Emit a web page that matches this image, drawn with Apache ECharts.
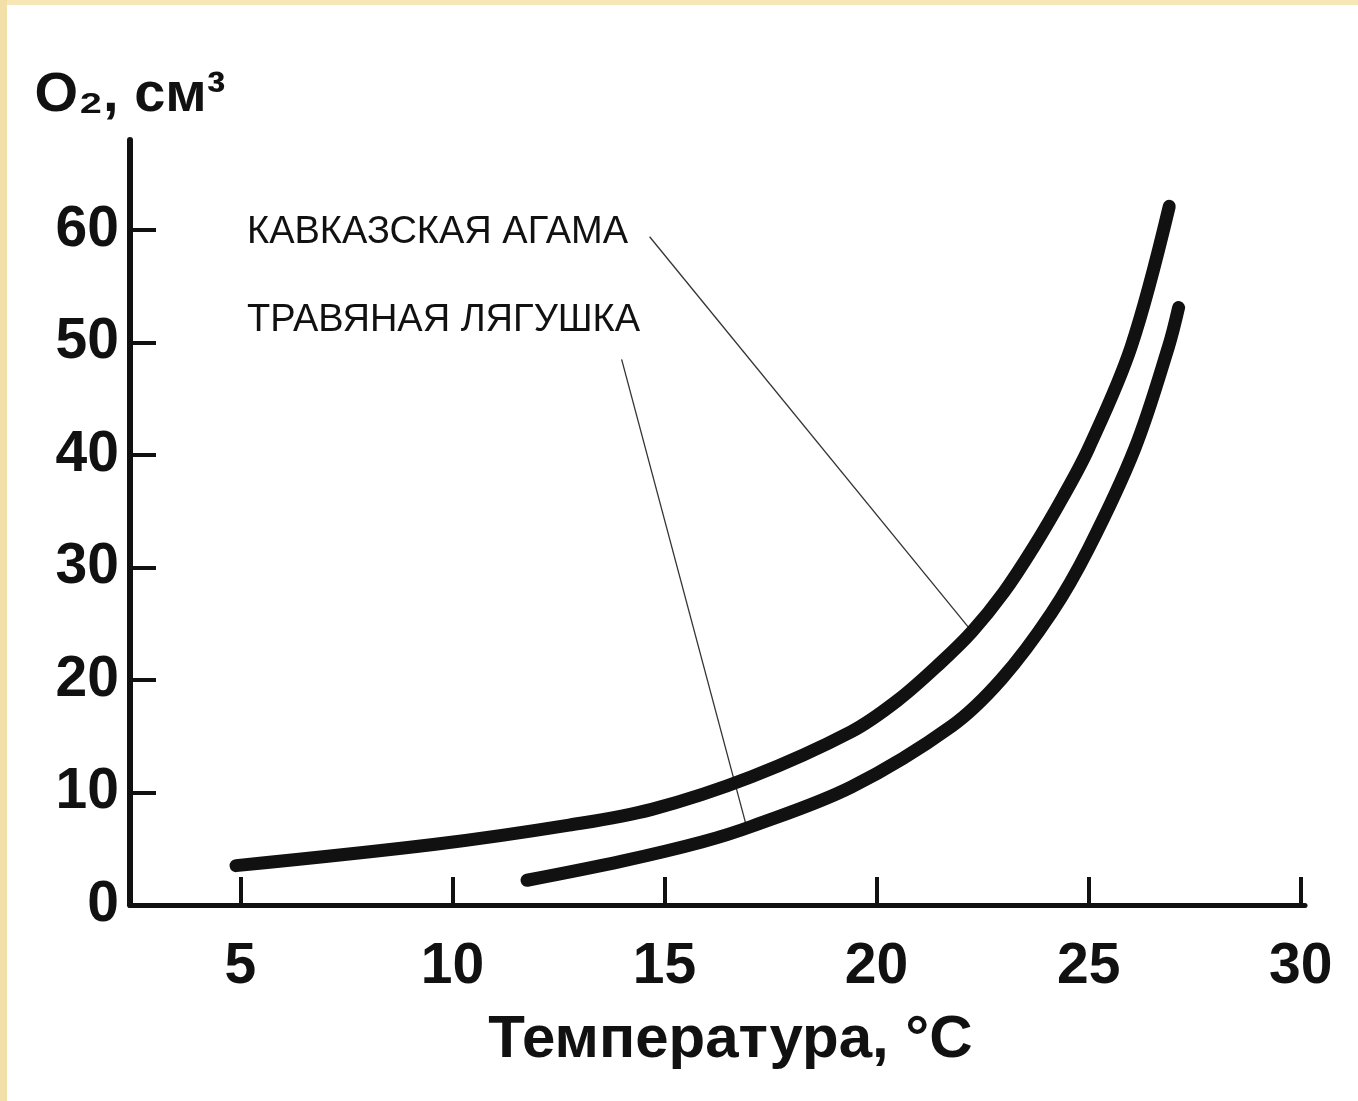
<!DOCTYPE html>
<html>
<head>
<meta charset="utf-8">
<script src="https://cdn.jsdelivr.net/npm/echarts@6/dist/echarts.min.js"></script>
<style>
html,body{margin:0;padding:0;background:#fff;}
#chart{width:1358px;height:1101px;}
</style>
</head>
<body>
<div id="chart"></div>
<script>
// Temperature ticks and O2 ticks
var xTicks = [5, 10, 15, 20, 25, 30];
var yTicks = [0, 10, 20, 30, 40, 50, 60];

// Кавказская агама
var agamaT  = [4.9, 9.6, 12.75, 14.7, 17.05, 19.4, 20.5, 21.5, 22.25, 23.0, 23.7, 24.4, 25.0, 26.0, 26.9];
var agamaO2 = [3.5, 5.4, 7.1, 8.5, 11.4, 15.4, 18.2, 21.5, 24.3, 27.8, 31.8, 36.3, 40.6, 49.6, 62.1];

// Травяная лягушка
var frogT  = [11.76, 14.0, 15.88, 17.06, 19.41, 21.77, 22.95, 24.13, 25.0, 26.09, 26.88, 27.12];
var frogO2 = [2.2, 3.9, 5.6, 7.0, 10.5, 15.9, 20.1, 26.0, 31.7, 40.6, 49.6, 53.1];

// leader lines: [label end, curve end]
var agamaLeaderT  = [14.65, 22.25];
var agamaLeaderO2 = [59.4, 24.3];
var frogLeaderT   = [13.99, 16.94];
var frogLeaderO2  = [48.5, 6.9];

var labels = ['КАВКАЗСКАЯ АГАМА', 'ТРАВЯНАЯ ЛЯГУШКА'];
var xName = 'Температура, °C';
var yName = 'O\u2082, см\u00B3';

function zip(a, b) { return a.map(function (v, i) { return [v, b[i]]; }); }

var chart = echarts.init(document.getElementById('chart'));
var ink = '#111';
var font = '"Liberation Sans", Arial, sans-serif';

chart.setOption({
  backgroundColor: '#fff',
  animation: false,
  grid: { left: 130, right: 53, top: 140, bottom: 196 },
  xAxis: {
    type: 'value', min: 2.4, max: 30.1,
    name: xName, nameLocation: 'middle', nameGap: 135,
    nameTextStyle: { fontFamily: font, fontWeight: 'bold', fontSize: 60, color: ink, verticalAlign: 'middle', padding: [0, 0, 0, 26] },
    axisLine: { show: true, lineStyle: { color: ink, width: 5 } },
    axisTick: { show: true, inside: true, length: 28, customValues: xTicks, lineStyle: { color: ink, width: 4 } },
    axisLabel: { customValues: xTicks, margin: 34, fontFamily: font, fontWeight: 'bold', fontSize: 57, color: ink },
    splitLine: { show: false }
  },
  yAxis: {
    type: 'value', min: 0, max: 68,
    name: yName, nameLocation: 'end', nameGap: 44,
    nameTextStyle: { fontFamily: font, fontWeight: 'bold', fontSize: 56, color: ink, align: 'center', verticalAlign: 'middle' },
    axisLine: { show: true, lineStyle: { color: ink, width: 6 } },
    axisTick: { show: true, inside: true, length: 26, customValues: yTicks, lineStyle: { color: ink, width: 4 } },
    axisLabel: { customValues: yTicks, margin: 11, fontFamily: font, fontWeight: 'bold', fontSize: 57, color: ink },
    splitLine: { show: false }
  },
  graphic: [
    { type: 'rect', left: 0, top: 0, shape: { width: 1358, height: 5 }, style: { fill: '#f8e7b6' }, z: 100 },
    { type: 'rect', left: 0, top: 0, shape: { width: 7, height: 1101 }, style: { fill: '#f3dfa8' }, z: 100 },
    { type: 'text', x: 247, y: 233, style: { text: labels[0], fontFamily: font, fontSize: 38, fill: ink, verticalAlign: 'middle', align: 'left' } },
    { type: 'text', x: 247, y: 321, style: { text: labels[1], fontFamily: font, fontSize: 38, fill: ink, verticalAlign: 'middle', align: 'left' } }
  ],
  series: [
    { type: 'line', name: labels[0], data: zip(agamaT, agamaO2), smooth: 0.35, symbol: 'none',
      lineStyle: { color: ink, width: 13, cap: 'round', join: 'round' }, z: 3 },
    { type: 'line', name: labels[1], data: zip(frogT, frogO2), smooth: 0.35, symbol: 'none',
      lineStyle: { color: ink, width: 13, cap: 'round', join: 'round' }, z: 3 },
    { type: 'line', data: zip(agamaLeaderT, agamaLeaderO2), symbol: 'none', silent: true,
      lineStyle: { color: '#333', width: 1.3 }, z: 2 },
    { type: 'line', data: zip(frogLeaderT, frogLeaderO2), symbol: 'none', silent: true,
      lineStyle: { color: '#333', width: 1.3 }, z: 2 }
  ]
});
</script>
</body>
</html>
